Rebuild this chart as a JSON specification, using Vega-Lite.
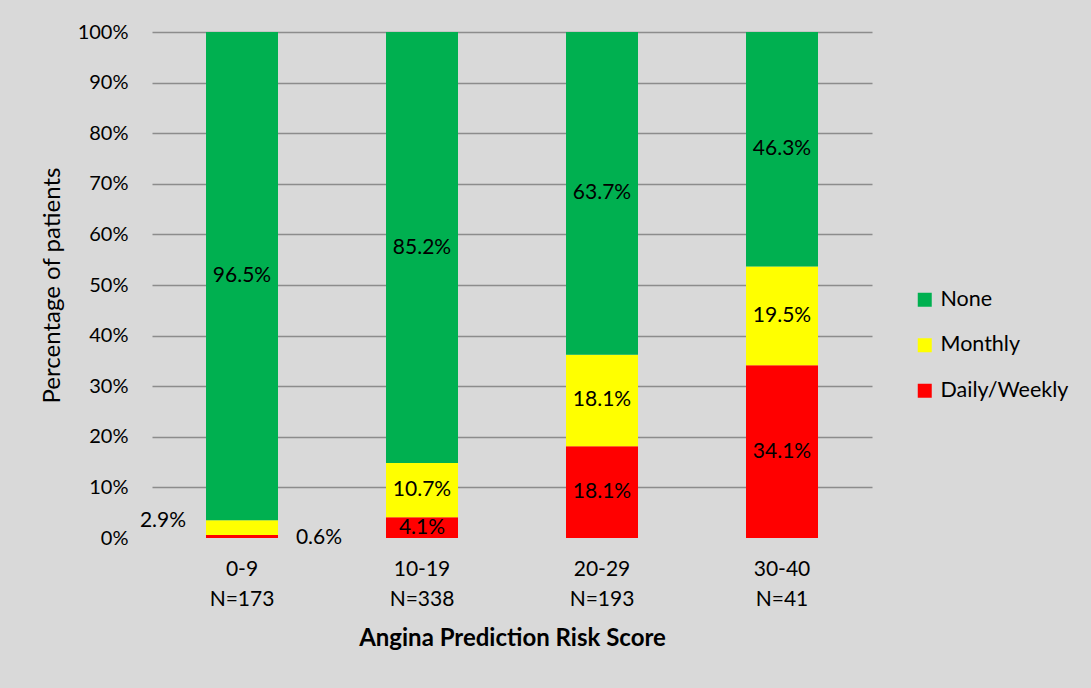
{
  "$schema": "https://vega.github.io/schema/vega-lite/v6.json",
  "width": 720,
  "height": 506,
  "autosize": {"type": "none"},
  "padding": {"left": 152, "top": 32, "right": 219, "bottom": 150},
  "background": "#d9d9d9",
  "config": {
    "view": {"stroke": null},
    "font": "Lato",
    "axis": {"labelFont": "Lato", "titleFont": "Lato", "labelColor": "#000000", "titleColor": "#000000"},
    "axisY": {
      "title": "Percentage of patients",
      "format": ".0%",
      "labelOverlap": false,
      "labelFontSize": 20,
      "labelPadding": 24,
      "ticks": false,
      "domain": false,
      "gridColor": "#8c8c8c",
      "gridWidth": 1.5,
      "titleFontSize": 24,
      "titleFontWeight": "normal",
      "titlePadding": 13
    }
  },
  "data": {
    "values": [
      {"grp": "0-9|N=173", "cat": "Daily/Weekly", "k": 1, "v": 0.006},
      {"grp": "0-9|N=173", "cat": "Monthly", "k": 2, "v": 0.029},
      {"grp": "0-9|N=173", "cat": "None", "k": 3, "v": 0.965},
      {"grp": "10-19|N=338", "cat": "Daily/Weekly", "k": 1, "v": 0.041},
      {"grp": "10-19|N=338", "cat": "Monthly", "k": 2, "v": 0.107},
      {"grp": "10-19|N=338", "cat": "None", "k": 3, "v": 0.852},
      {"grp": "20-29|N=193", "cat": "Daily/Weekly", "k": 1, "v": 0.181},
      {"grp": "20-29|N=193", "cat": "Monthly", "k": 2, "v": 0.181},
      {"grp": "20-29|N=193", "cat": "None", "k": 3, "v": 0.637},
      {"grp": "30-40|N=41", "cat": "Daily/Weekly", "k": 1, "v": 0.341},
      {"grp": "30-40|N=41", "cat": "Monthly", "k": 2, "v": 0.195},
      {"grp": "30-40|N=41", "cat": "None", "k": 3, "v": 0.463}
    ]
  },
  "transform": [
    {"stack": "v", "groupby": ["grp"], "sort": [{"field": "k"}], "as": ["y0", "y1"], "offset": "normalize"},
    {"calculate": "(datum.y0 + datum.y1) / 2", "as": "mid"}
  ],
  "encoding": {
    "x": {
      "field": "grp",
      "type": "nominal",
      "sort": null,
      "scale": {"paddingInner": 0.6, "paddingOuter": 0.3},
      "axis": {
        "title": "Angina Prediction Risk Score",
        "labelExpr": "split(datum.label, '|')",
        "labelAngle": 0,
        "labelFontSize": 21,
        "labelLineHeight": 30,
        "labelPadding": 20,
        "ticks": false,
        "domain": false,
        "titleFontSize": 24,
        "titleFontWeight": "bold",
        "titlePadding": 17
      }
    }
  },
  "layer": [
    {
      "mark": {"type": "bar"},
      "encoding": {
        "y": {
          "field": "y0",
          "type": "quantitative",
          "scale": {"domain": [0, 1]},
          "axis": {
            "title": "Percentage of patients",
            "values": [0, 0.1, 0.2, 0.3, 0.4, 0.5, 0.6, 0.7, 0.8, 0.9, 1],
            "gridOpacity": {"condition": {"test": "datum.value === 0", "value": 0}, "value": 1}
          }
        },
        "y2": {"field": "y1"},
        "color": {
          "field": "cat",
          "type": "nominal",
          "scale": {"domain": ["None", "Monthly", "Daily/Weekly"], "range": ["#00b050", "#ffff00", "#ff0000"]},
          "legend": {
            "title": null,
            "orient": "none",
            "legendX": 762,
            "legendY": 257,
            "symbolType": "square",
            "symbolSize": 196,
            "symbolStrokeWidth": 0,
            "labelFontSize": 21.5,
            "labelFont": "Lato",
            "labelColor": "#000000",
            "labelOffset": 5,
            "rowPadding": 22.5,
            "padding": 0
          }
        }
      }
    },
    {
      "transform": [{"filter": "!(datum.grp === '0-9|N=173' && datum.k < 3)"}],
      "mark": {"type": "text", "fontSize": 21, "font": "Lato", "color": "#000000"},
      "encoding": {
        "y": {
          "field": "mid",
          "type": "quantitative",
          "axis": {
            "title": "Percentage of patients",
            "values": [0, 0.1, 0.2, 0.3, 0.4, 0.5, 0.6, 0.7, 0.8, 0.9, 1],
            "gridOpacity": {"condition": {"test": "datum.value === 0", "value": 0}, "value": 1}
          }
        },
        "text": {"field": "v", "type": "quantitative", "format": ".1%"}
      }
    },
    {
      "transform": [{"filter": "datum.grp === '0-9|N=173' && datum.k === 2"}],
      "mark": {"type": "text", "fontSize": 21, "font": "Lato", "color": "#000000", "dx": -79, "dy": -7},
      "encoding": {
        "y": {
          "field": "mid",
          "type": "quantitative",
          "axis": {
            "title": "Percentage of patients",
            "values": [0, 0.1, 0.2, 0.3, 0.4, 0.5, 0.6, 0.7, 0.8, 0.9, 1],
            "gridOpacity": {"condition": {"test": "datum.value === 0", "value": 0}, "value": 1}
          }
        },
        "text": {"field": "v", "type": "quantitative", "format": ".1%"}
      }
    },
    {
      "transform": [{"filter": "datum.grp === '0-9|N=173' && datum.k === 1"}],
      "mark": {"type": "text", "fontSize": 21, "font": "Lato", "color": "#000000", "dx": 77, "dy": 2},
      "encoding": {
        "y": {
          "field": "mid",
          "type": "quantitative",
          "axis": {
            "title": "Percentage of patients",
            "values": [0, 0.1, 0.2, 0.3, 0.4, 0.5, 0.6, 0.7, 0.8, 0.9, 1],
            "gridOpacity": {"condition": {"test": "datum.value === 0", "value": 0}, "value": 1}
          }
        },
        "text": {"field": "v", "type": "quantitative", "format": ".1%"}
      }
    }
  ]
}
